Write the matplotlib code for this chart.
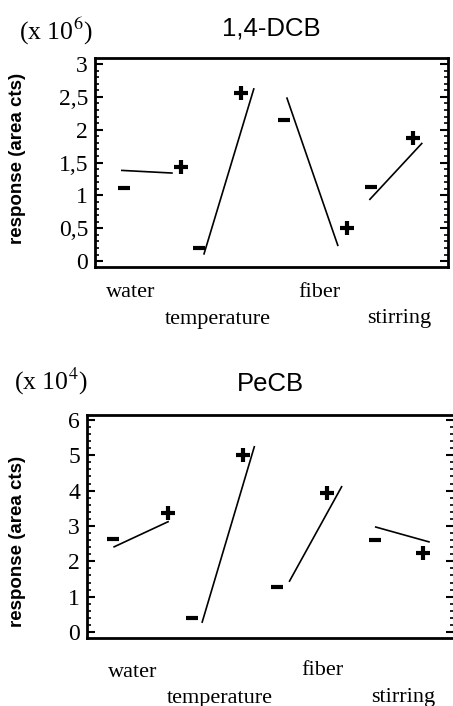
import matplotlib.pyplot as plt
from matplotlib.ticker import MultipleLocator, FuncFormatter

plt.rcParams['mathtext.fontset'] = 'stix'

factors = ['water', 'temperature', 'fiber', 'stirring']

# 1,4-DCB (x 10^6)
dcb_minus_x = [0.82, 2.95, 5.35, 7.82]
dcb_minus_y = [1.11, 0.20, 2.15, 1.12]
dcb_plus_x = [2.44, 4.14, 7.14, 9.01]
dcb_plus_y = [1.43, 2.56, 0.50, 1.87]
dcb_line_x0 = [0.76, 3.09, 5.44, 7.79]
dcb_line_x1 = [2.18, 4.50, 6.88, 9.26]
dcb_line_y0 = [1.38, 0.11, 2.48, 0.94]
dcb_line_y1 = [1.34, 2.62, 0.24, 1.79]

# PeCB (x 10^4)
pecb_minus_x = [0.71, 2.87, 5.19, 7.84]
pecb_minus_y = [2.63, 0.40, 1.27, 2.60]
pecb_plus_x = [2.21, 4.26, 6.53, 9.15]
pecb_plus_y = [3.37, 5.01, 3.93, 2.24]
pecb_line_x0 = [0.74, 3.14, 5.52, 7.87]
pecb_line_x1 = [2.21, 4.56, 6.94, 9.32]
pecb_line_y0 = [2.41, 0.28, 1.44, 2.97]
pecb_line_y1 = [3.12, 5.24, 4.11, 2.55]

serif = 'Liberation Serif'
sans = 'Liberation Sans'

fig = plt.figure(figsize=(4.53, 7.06), dpi=100)


def panel(rect, title, title_pad, scale, scale_xy, mx, my, px, py,
          lx0, lx1, ly0, ly1, ylim, major, minor, ylab_xy,
          label_x, label_y):
    ax = fig.add_axes(rect)
    for a, b, c, d in zip(lx0, lx1, ly0, ly1):
        ax.plot([a, b], [c, d], color='black', lw=1.2)
    ax.plot(mx, my, ls='none', marker='_', ms=8, mew=3, color='black')
    ax.plot(px, py, ls='none', marker='+', ms=10, mew=3, color='black')
    ax.set_xlim(0, 10)
    ax.set_ylim(*ylim)
    ax.yaxis.set_major_locator(MultipleLocator(major))
    ax.yaxis.set_minor_locator(MultipleLocator(minor))
    ax.yaxis.set_major_formatter(FuncFormatter(
        lambda v, p: ('%g' % v).replace('.', ',')))
    ax.set_xticks([])
    ax.tick_params(axis='y', which='both', direction='in', left=True,
                   right=True, labelsize=17, pad=5)
    ax.tick_params(axis='y', which='major', length=6, width=1.5)
    ax.tick_params(axis='y', which='minor', length=3, width=1.2)
    for lab in ax.get_yticklabels():
        lab.set_family(serif)
    for s in ax.spines.values():
        s.set_linewidth(2)
    ax.set_ylabel('response (area cts)', family=sans, fontweight='bold',
                  fontsize=13.5)
    ax.yaxis.set_label_coords(*ylab_xy)
    ax.set_title(title, family=sans, fontsize=18.5, pad=title_pad)
    fig.text(scale_xy[0], scale_xy[1], scale, family=serif,
             fontsize=18.5, va='center', ha='left')
    for i, name in enumerate(factors):
        ax.text(label_x[i], label_y[i], name, transform=ax.transAxes,
                family=serif, fontsize=16, ha='center', va='center')
    return ax


panel([0.2097, 0.6218, 0.7790, 0.2960], '1,4-DCB', 16,
      r'(x 10$^{6}$)', (0.042, 0.956),
      dcb_minus_x, dcb_minus_y, dcb_plus_x, dcb_plus_y,
      dcb_line_x0, dcb_line_x1, dcb_line_y0, dcb_line_y1,
      (-0.09, 3.09), 0.5, 0.1, (-0.195, 0.52),
      [0.102, 0.349, 0.637, 0.861], [-0.12, -0.25, -0.12, -0.245])

panel([0.1920, 0.0963, 0.8100, 0.3159], 'PeCB', 17,
      r'(x 10$^{4}$)', (0.032, 0.459),
      pecb_minus_x, pecb_minus_y, pecb_plus_x, pecb_plus_y,
      pecb_line_x0, pecb_line_x1, pecb_line_y0, pecb_line_y1,
      (-0.17, 6.14), 1, 0.2, (-0.166, 0.435),
      [0.125, 0.362, 0.642, 0.861], [-0.153, -0.27, -0.145, -0.265])

fig.savefig('out.png', dpi=100)
